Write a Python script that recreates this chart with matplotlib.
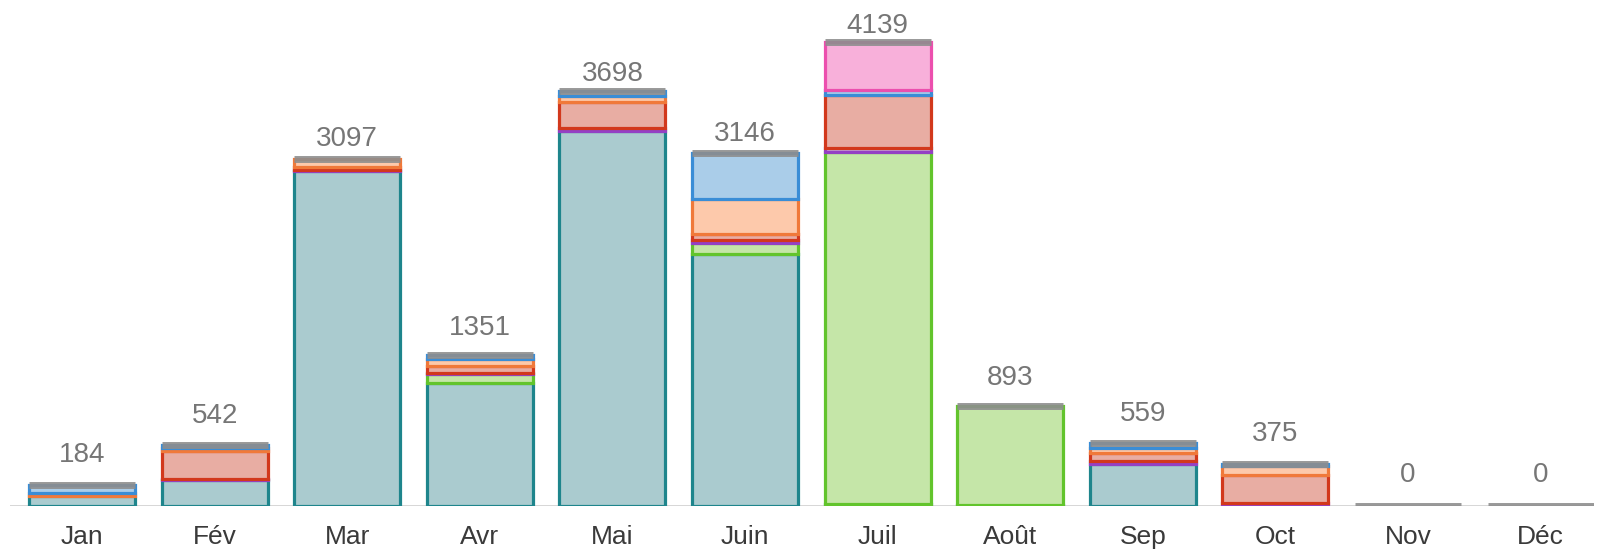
import matplotlib
matplotlib.use("Agg")
import matplotlib.pyplot as plt
import numpy as np

months = ['Jan', 'Fév', 'Mar', 'Avr', 'Mai', 'Juin', 'Juil', 'Août', 'Sep', 'Oct', 'Nov', 'Déc']
teal = [90, 232, 2990, 1100, 3348, 2250, 20, 8, 375, 0, 0, 0]
green = [0, 0, 0, 75, 0, 100, 3140, 885, 0, 0, 0, 0]
purple = [0, 10, 5, 15, 20, 25, 35, 0, 25, 25, 0, 0]
red = [0, 247, 30, 55, 240, 55, 475, 0, 70, 250, 0, 0]
orange = [25, 30, 72, 70, 50, 305, 0, 0, 45, 80, 0, 0]
blue = [69, 23, 0, 36, 40, 411, 45, 0, 44, 20, 0, 0]
pink = [0, 0, 0, 0, 0, 0, 424, 0, 0, 0, 0, 0]
gray = [0, 0, 0, 0, 0, 0, 0, 0, 0, 0, 0, 0]

series = [
    (teal, '#aacbcf', '#1e858c'),
    (green, '#c5e6a8', '#62c42c'),
    (purple, '#c9a6e0', '#9440c4'),
    (red, '#e8ada3', '#d2381c'),
    (orange, '#fdc9ab', '#f0793a'),
    (blue, '#aacde9', '#3a8dd6'),
    (pink, '#f8b0da', '#ec4fae'),
]

plt.rcParams['font.family'] = ['Liberation Sans', 'DejaVu Sans']

fig = plt.figure(figsize=(16.10, 5.56), dpi=100)
ax = fig.add_axes([10/1610, 50/556, 1584/1610, 506/556])

x = np.arange(len(months))
bottom = np.zeros(len(months))
width = 0.8
for vals, fc, ec in series:
    v = np.array(vals, dtype=float)
    lw = [2.3 if val > 0 else 0 for val in v]
    ax.bar(x, v, width=width, bottom=bottom, color=fc, edgecolor=ec,
           linewidth=lw, zorder=2)
    bottom = bottom + v

totals = bottom
ax.bar(x, gray, width=width, bottom=totals, color='#8e8e8e', edgecolor='#8e8e8e',
       linewidth=5, alpha=0.9, zorder=3)

for xi, t in zip(x, totals):
    ax.annotate(f"{int(round(t))}", (xi, t * 0.9677), xytext=(0, 17.3),
                textcoords='offset points', ha='center', va='baseline',
                fontsize=20, color='#767676')

ax.axhline(0, color='#cfcfcf', lw=1.2, zorder=1)
ax.set_xlim(-0.543, 11.403)
ax.set_ylim(0, 506/0.1121)
ax.set_xticks(x)
ax.set_xticklabels(months, fontsize=19, color='#3a3a3a')
ax.tick_params(axis='x', length=0, pad=14)
ax.set_yticks([])
for s in ax.spines.values():
    s.set_visible(False)
ax.patch.set_alpha(0)

fig.savefig('out.png', dpi=100)
